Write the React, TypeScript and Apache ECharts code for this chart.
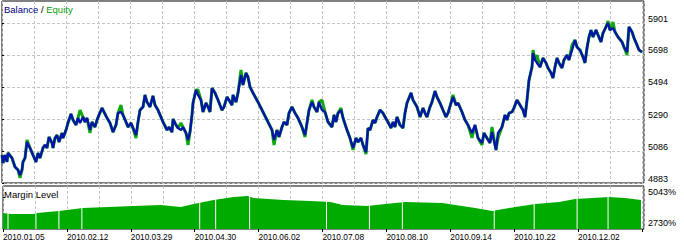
import React, { useEffect, useRef } from "react";
import * as echarts from "echarts";

// ---- data ----
const dateLabels = [
  "2010.01.05", "2010.02.12", "2010.03.29", "2010.04.30", "2010.06.02",
  "2010.07.08", "2010.08.10", "2010.09.14", "2010.10.22", "2010.12.02",
];
const dateTickTrades = [0, 64, 128, 192, 256, 320, 384, 448, 512, 576, 640];
const balanceTicks = [4883, 5086, 5290, 5494, 5698, 5901];
const marginTicks = [2730, 5043];

// [trade #, balance]
const balance: [number, number][] = [
  [0,5061],[1,5010],[3,5061],[5,5017],[6,5074],[10,5042],[13,4985],[16,4966],[18,4934],[20,4966],
  [21,5017],[23,5042],[25,5144],[28,5106],[31,5061],[34,5017],[36,5074],[38,5042],[41,5106],[43,5125],
  [45,5106],[47,5176],[50,5138],[51,5106],[53,5169],[55,5188],[57,5144],[60,5201],[61,5169],[64,5220],
  [66,5265],[69,5322],[71,5284],[74,5252],[76,5297],[78,5265],[81,5303],[83,5271],[85,5297],[88,5220],
  [90,5271],[93,5239],[95,5284],[97,5316],[100,5360],[102,5335],[105,5297],[108,5265],[111,5207],[114,5252],
  [116,5328],[119,5335],[121,5316],[124,5271],[126,5239],[129,5265],[131,5233],[134,5188],[136,5271],[138,5347],
  [141,5367],[143,5443],[145,5398],[148,5367],[151,5437],[153,5379],[156,5347],[161,5271],[165,5220],[167,5239],
  [170,5207],[171,5290],[174,5252],[176,5233],[179,5220],[181,5239],[184,5201],[186,5157],[188,5207],[190,5316],
  [191,5392],[194,5475],[196,5443],[199,5411],[201,5335],[204,5392],[206,5367],[208,5335],[210,5487],[213,5456],
  [216,5411],[220,5347],[222,5367],[225,5430],[227,5411],[230,5379],[231,5443],[234,5398],[236,5456],[239,5570],
  [241,5507],[244,5583],[246,5557],[248,5494],[251,5456],[256,5398],[261,5335],[266,5271],[270,5220],[272,5157],
  [275,5220],[277,5176],[280,5239],[282,5271],[285,5252],[287,5328],[290,5367],[293,5328],[296,5297],[300,5239],
  [303,5188],[305,5265],[307,5347],[310,5398],[312,5367],[315,5335],[317,5398],[320,5347],[323,5335],[326,5271],
  [330,5239],[332,5316],[334,5271],[336,5328],[339,5347],[341,5297],[345,5220],[348,5169],[351,5106],[354,5169],
  [356,5144],[359,5169],[361,5125],[364,5080],[366,5233],[368,5220],[371,5284],[373,5265],[375,5303],[378,5347],
  [381,5328],[383,5303],[386,5271],[389,5233],[391,5271],[393,5239],[395,5303],[398,5252],[401,5233],[403,5328],
  [405,5392],[409,5456],[411,5411],[415,5367],[418,5303],[421,5360],[423,5328],[425,5303],[428,5367],[430,5398],
  [433,5468],[435,5430],[438,5392],[441,5347],[444,5303],[446,5328],[449,5392],[451,5430],[454,5379],[456,5392],
  [460,5335],[463,5284],[466,5252],[470,5201],[473,5252],[476,5169],[480,5138],[482,5201],[485,5169],[488,5138],
  [490,5207],[494,5093],[496,5201],[500,5239],[503,5316],[505,5284],[507,5328],[510,5335],[512,5360],[515,5411],
  [518,5379],[521,5347],[523,5303],[525,5411],[527,5538],[530,5621],[531,5710],[533,5666],[535,5647],[538,5621],
  [541,5678],[544,5647],[546,5615],[549,5583],[551,5551],[553,5621],[555,5678],[557,5647],[560,5615],[562,5666],
  [565,5697],[567,5666],[570,5729],[573,5793],[575,5748],[578,5729],[581,5685],[583,5647],[585,5742],[587,5812],
  [589,5856],[591,5812],[594,5856],[596,5825],[599,5780],[601,5837],[604,5876],[606,5901],[608,5856],[611,5869],
  [613,5844],[616,5812],[620,5780],[622,5748],[625,5716],[627,5876],[630,5844],[632,5806],[635,5761],[637,5729],
  [640,5716],
];

// [trade #, equity]
const equity: [number, number][] = [
  [0,5061],[1,5010],[3,5061],[5,5017],[6,5074],[10,5042],[13,4985],[16,4966],[18,4915],[20,4966],
  [21,5017],[23,5042],[25,5157],[28,5106],[31,5061],[34,5017],[36,5074],[38,5042],[41,5106],[43,5125],
  [45,5106],[47,5176],[50,5138],[51,5106],[53,5169],[55,5188],[57,5144],[60,5201],[61,5169],[64,5220],
  [66,5265],[69,5322],[71,5284],[74,5252],[76,5297],[78,5347],[81,5303],[83,5271],[85,5297],[88,5201],
  [90,5271],[93,5239],[95,5284],[97,5316],[100,5360],[102,5335],[105,5297],[108,5265],[111,5207],[114,5252],
  [116,5328],[119,5379],[121,5316],[124,5271],[126,5239],[129,5265],[131,5233],[134,5169],[136,5271],[138,5347],
  [141,5367],[143,5443],[145,5398],[148,5367],[151,5437],[153,5379],[156,5347],[161,5271],[165,5220],[167,5239],
  [170,5207],[171,5290],[174,5252],[176,5233],[179,5265],[181,5239],[184,5201],[186,5125],[188,5207],[190,5316],
  [191,5392],[194,5475],[196,5475],[199,5411],[201,5335],[204,5392],[206,5367],[208,5335],[210,5487],[213,5456],
  [216,5411],[220,5347],[222,5367],[225,5430],[227,5411],[230,5379],[231,5443],[234,5398],[236,5456],[239,5602],
  [241,5507],[244,5583],[246,5557],[248,5494],[251,5456],[256,5398],[261,5335],[266,5271],[270,5220],[272,5125],
  [275,5220],[277,5176],[280,5239],[282,5271],[285,5252],[287,5328],[290,5367],[293,5328],[296,5297],[300,5239],
  [303,5176],[305,5265],[307,5347],[310,5411],[312,5367],[315,5335],[317,5398],[320,5411],[323,5335],[326,5271],
  [330,5239],[332,5316],[334,5271],[336,5328],[339,5360],[341,5297],[345,5220],[348,5169],[351,5093],[354,5169],
  [356,5144],[359,5169],[361,5125],[364,5067],[366,5233],[368,5220],[371,5284],[373,5265],[375,5303],[378,5347],
  [381,5328],[383,5303],[386,5271],[389,5233],[391,5271],[393,5239],[395,5303],[398,5252],[401,5233],[403,5328],
  [405,5392],[409,5456],[411,5411],[415,5367],[418,5303],[421,5360],[423,5328],[425,5303],[428,5367],[430,5398],
  [433,5468],[435,5430],[438,5392],[441,5347],[444,5303],[446,5328],[449,5392],[451,5443],[454,5379],[456,5392],
  [460,5335],[463,5284],[466,5252],[470,5170],[473,5252],[476,5169],[480,5125],[482,5201],[485,5169],[488,5138],
  [490,5239],[494,5093],[496,5169],[500,5239],[503,5316],[505,5284],[507,5328],[510,5335],[512,5360],[515,5411],
  [518,5379],[521,5347],[523,5303],[525,5411],[527,5538],[530,5621],[531,5729],[533,5666],[535,5697],[538,5621],
  [541,5678],[544,5647],[546,5615],[549,5583],[551,5551],[553,5621],[555,5678],[557,5647],[560,5615],[562,5666],
  [565,5697],[567,5666],[570,5761],[573,5793],[575,5748],[578,5729],[581,5685],[583,5647],[585,5742],[587,5812],
  [589,5856],[591,5812],[594,5856],[596,5825],[599,5780],[601,5837],[604,5876],[606,5914],[608,5856],[611,5907],
  [613,5844],[616,5812],[620,5780],[622,5748],[625,5697],[627,5876],[630,5844],[632,5806],[635,5761],[637,5729],
  [640,5716],
];

// [trade #, margin level %]
const marginLevel: [number, number][] = [
  [0,3849],[8,3774],[31,3774],[34,3849],[56,3998],[80,4222],[105,4297],[131,4371],[158,4446],[178,4297],
  [191,4520],[211,4819],[231,5043],[245,5117],[251,4968],[281,4819],[308,4744],[328,4670],[340,4446],[365,4371],
  [383,4520],[403,4670],[440,4595],[473,4222],[490,3998],[513,4297],[533,4520],[557,4670],[573,4893],[607,5043],
  [623,4968],[639,4819],
];
// moments with no open position: [trade #, level drawn to]
const marginGaps: [number, number][] = [
  [5,3900],[33,3850],[56,4050],[79,4270],[197,4650],[213,4870],[247,5170],[324,4720],[367,4420],[400,4720],
  [492,4050],[532,4570],[575,4940],[606,5090],
];

const FONT = '"Liberation Sans", Arial, sans-serif';
const GRID_DASH = { color: "#c4c4c4", width: 1, type: [3, 2] as number[] };

export default function App() {
  const ref = useRef<HTMLDivElement>(null);
  useEffect(() => {
    document.body.style.margin = "0";
    if (!ref.current) return;
    const chart = echarts.init(ref.current, undefined, { renderer: "svg" });
    chart.setOption({
      animation: false,
      backgroundColor: "#ffffff",
      grid: [
        { left: 2, top: 1, width: 642, height: 182, show: true, borderColor: "#000", borderWidth: 1, backgroundColor: "transparent" },
        { left: 2, top: 186, width: 642, height: 43, show: true, borderColor: "#000", borderWidth: 1, backgroundColor: "transparent" },
      ],
      xAxis: [
        {
          type: "value", gridIndex: 0, min: 0, max: 642, interval: 32,
          axisLine: { show: false }, axisTick: { show: false }, axisLabel: { show: false },
          splitLine: { show: true, lineStyle: GRID_DASH },
        },
        {
          type: "value", gridIndex: 1, min: 0, max: 642, interval: 32, position: "top",
          axisLine: { show: false }, axisTick: { show: false }, axisLabel: { show: false },
          splitLine: { show: true, lineStyle: GRID_DASH },
        },
        {
          type: "value", gridIndex: 1, min: 0, max: 642, position: "bottom",
          axisLine: { show: false },
          axisTick: { show: true, customValues: dateTickTrades, length: 3, lineStyle: { color: "#000" } },
          axisLabel: {
            show: true, customValues: dateTickTrades, align: "left", margin: 4,
            fontFamily: FONT, fontSize: 8.3, color: "#000",
            formatter: (v: number) => dateLabels[Math.round(v / 64)] ?? "",
          },
          splitLine: { show: false },
        },
      ],
      yAxis: [
        {
          type: "value", gridIndex: 0, min: 4883, max: 6041, position: "right",
          axisLine: { show: false },
          axisTick: { show: true, customValues: balanceTicks, length: 2, lineStyle: { color: "#000" } },
          axisLabel: {
            show: true, customValues: balanceTicks, margin: 4, verticalAlign: "bottom",
            fontFamily: FONT, fontSize: 9, color: "#000", lineHeight: 9,
            formatter: (v: number) => String(v),
          },
          splitLine: { show: true, lineStyle: GRID_DASH },
        },
        {
          type: "value", gridIndex: 1, min: 2655, max: 5863, position: "right",
          axisLine: { show: false },
          axisTick: { show: true, customValues: marginTicks, length: 2, lineStyle: { color: "#000" } },
          axisLabel: {
            show: true, customValues: marginTicks, margin: 4, verticalAlign: "bottom",
            fontFamily: FONT, fontSize: 9, color: "#000", lineHeight: 9,
            formatter: (v: number) => v + "%",
          },
          splitLine: { show: false },
        },
      ],
      series: [
        {
          name: "Equity", type: "line", xAxisIndex: 0, yAxisIndex: 0, data: equity,
          symbol: "none", lineStyle: { color: "#10a810", width: 3 }, z: 2,
        },
        {
          name: "Balance", type: "line", xAxisIndex: 0, yAxisIndex: 0, data: balance,
          symbol: "none", lineStyle: { color: "#0514a8", width: 2.4 }, z: 3,
        },
        {
          name: "Margin Level", type: "line", xAxisIndex: 1, yAxisIndex: 1, data: marginLevel,
          symbol: "none", lineStyle: { width: 0, color: "#00ab00" },
          areaStyle: { color: "#00ab00", opacity: 1 }, z: 2,
        },
        {
          name: "Gaps", type: "bar", xAxisIndex: 1, yAxisIndex: 1, data: marginGaps,
          barWidth: 1, itemStyle: { color: "#ffffff" }, z: 3,
        },
      ],
      graphic: [
        {
          type: "text", left: 4, top: 4, z: 10,
          style: {
            text: "{b|Balance} / {e|Equity}",
            font: `9.5px ${FONT}`, fill: "#000",
            rich: {
              b: { fill: "#000080", font: `9.5px ${FONT}` },
              e: { fill: "#0a9a0a", font: `9.5px ${FONT}` },
            },
          },
        },
        {
          type: "text", left: 4, top: 189, z: 10,
          style: { text: "Margin Level", font: `9.5px ${FONT}`, fill: "#000" },
        },
      ],
    });
    return () => chart.dispose();
  }, []);
  return <div ref={ref} style={{ width: 684, height: 245 }} />;
}
